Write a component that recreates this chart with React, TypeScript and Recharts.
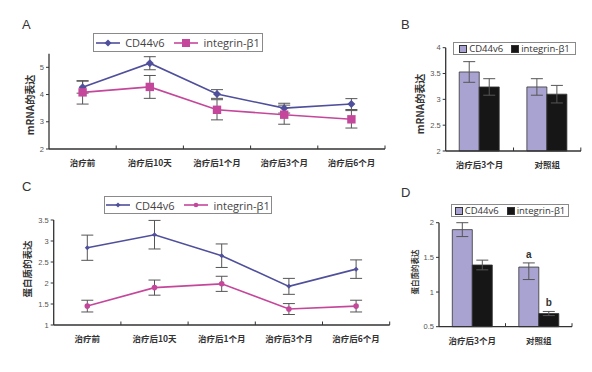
import React from 'react';
import { LineChart, Line, BarChart, Bar, XAxis, YAxis, ErrorBar, Legend, LabelList } from 'recharts';

const timeCats = ['治疗前', '治疗后10天', '治疗后1个月', '治疗后3个月', '治疗后6个月'];
const groupCats = ['治疗后3个月', '对照组'];

// A: mRNA over time
const mrnaCd44 = [4.27, 5.15, 4.02, 3.5, 3.65];
const mrnaCd44Err = [0.22, 0.24, 0.16, 0.18, 0.2];
const mrnaItg = [4.08, 4.28, 3.44, 3.26, 3.09];
const mrnaItgErr = [0.43, 0.42, 0.37, 0.35, 0.32];

// B: mRNA, treated vs control
const mrnaBarCd44 = [3.53, 3.24];
const mrnaBarCd44Err = [0.2, 0.16];
const mrnaBarItg = [3.24, 3.1];
const mrnaBarItgErr = [0.16, 0.17];

// C: protein over time
const proCd44 = [2.84, 3.15, 2.65, 1.92, 2.33];
const proCd44Err = [0.3, 0.34, 0.28, 0.19, 0.22];
const proItg = [1.45, 1.89, 1.98, 1.38, 1.45];
const proItgErr = [0.14, 0.18, 0.18, 0.13, 0.14];

// D: protein, treated vs control
const proBarCd44 = [1.9, 1.36];
const proBarCd44Err = [[0.1, 0.1], [0.18, 0.06]];
const proBarItg = [1.39, 0.69];
const proBarItgErr = [0.07, 0.03];
const proBarCd44Sig = ['', 'a'];
const proBarItgSig = ['', 'b'];

const mrnaRows = timeCats.map((c, i) => ({ cat: c, cd: mrnaCd44[i], cdErr: mrnaCd44Err[i], it: mrnaItg[i], itErr: mrnaItgErr[i] }));
const proRows = timeCats.map((c, i) => ({ cat: c, cd: proCd44[i], cdErr: proCd44Err[i], it: proItg[i], itErr: proItgErr[i] }));
const mrnaBarRows = groupCats.map((c, i) => ({ cat: c, cd: mrnaBarCd44[i], cdErr: mrnaBarCd44Err[i], it: mrnaBarItg[i], itErr: mrnaBarItgErr[i] }));
const proBarRows = groupCats.map((c, i) => ({
  cat: c, cd: proBarCd44[i], cdErr: proBarCd44Err[i], it: proBarItg[i], itErr: proBarItgErr[i],
  cdSig: proBarCd44Sig[i], itSig: proBarItgSig[i],
}));

const LATIN = '"Liberation Sans", Arial, sans-serif';
const CJK = '"Noto Sans CJK SC", "Liberation Sans", sans-serif';
const AXIS = '#333';
const ERR = '#555';
const BLUE = '#4f4f9c';
const PINK = '#c4479b';
const LAVENDER = '#a9a3d2';
const BLACK = '#161616';

const Diamond = ({ cx, cy, r = 3.5, fill }: any) =>
  cx == null ? null : <polygon points={`${cx},${cy - r} ${cx + r},${cy} ${cx},${cy + r} ${cx - r},${cy}`} fill={fill} />;
const Square = ({ cx, cy, r = 4, fill }: any) =>
  cx == null ? null : <rect x={cx - r} y={cy - r} width={r * 2} height={r * 2} fill={fill} />;
const Dot = ({ cx, cy, r = 2.6, fill }: any) => (cx == null ? null : <circle cx={cx} cy={cy} r={r} fill={fill} />);

const CatTick = ({ x, y, payload, index, half, count, fs }: any) => (
  <g>
    {index > 0 && <line x1={x - half} y1={y} x2={x - half} y2={y - 3.5} stroke={AXIS} />}
    {index === count - 1 && <line x1={x + half} y1={y} x2={x + half} y2={y - 3.5} stroke={AXIS} />}
    <text x={x} y={y + 17} textAnchor="middle" fontSize={fs} fontWeight={700} fill="#333" fontFamily={CJK}>
      {payload.value}
    </text>
  </g>
);

const yTick = { fontSize: 7.5, fill: '#555', fontFamily: LATIN };

const LineLegendBox = ({ payload, marks, w, h }: any) => (
  <div style={{ width: w, height: h, boxSizing: 'border-box', border: '1px solid #8a8a8a', display: 'flex', alignItems: 'center', justifyContent: 'center', gap: 10, background: '#fff' }}>
    {(payload || []).map((p: any) => {
      const Mark = marks[p.dataKey];
      return (
        <span key={p.dataKey} style={{ display: 'flex', alignItems: 'center', fontFamily: '"Open Sans", sans-serif', fontSize: 11, color: '#444' }}>
          <svg width={24} height={10} style={{ marginRight: 5 }}>
            <line x1={0} y1={5} x2={24} y2={5} stroke={p.color} strokeWidth={1.6} />
            <Mark cx={12} cy={5} fill={p.color} />
          </svg>
          {p.value}
        </span>
      );
    })}
  </div>
);

const BarLegendBox = ({ payload, w, h, fs }: any) => (
  <div style={{ width: w, height: h, boxSizing: 'border-box', border: '1px solid #8a8a8a', display: 'flex', alignItems: 'center', justifyContent: 'center', gap: 8, background: '#fff' }}>
    {(payload || []).map((p: any) => (
      <span key={p.dataKey} style={{ display: 'flex', alignItems: 'center', fontFamily: '"Open Sans", sans-serif', fontSize: fs, color: '#333' }}>
        <span style={{ width: 6, height: 6, background: p.color, border: '1px solid #333', marginRight: 2 }} />
        {p.value}
      </span>
    ))}
  </div>
);

const Letter = ({ x, y, children }: any) => (
  <div style={{ position: 'absolute', left: x, top: y, fontFamily: LATIN, fontSize: 13, color: '#333', lineHeight: '13px' }}>{children}</div>
);

const YTitle = ({ x, y, fs, children }: any) => (
  <div style={{ position: 'absolute', left: x, top: y, transform: 'translate(-50%, -50%) rotate(-90deg)', whiteSpace: 'nowrap', fontFamily: CJK, fontWeight: 700, fontSize: fs, color: '#333', lineHeight: 1 }}>
    {children}
  </div>
);

const Panel = ({ left, top, children }: any) => <div style={{ position: 'absolute', left, top }}>{children}</div>;

export default function App() {
  return (
    <div style={{ position: 'absolute', left: 0, top: 0, width: 592, height: 372, background: '#fff', overflow: 'hidden' }}>
      <Panel left={0} top={0}>
        <LineChart width={400} height={180} data={mrnaRows} margin={{ top: 53.7, right: 15, bottom: 6, left: 29 }}>
          <XAxis dataKey="cat" scale="point" padding={{ left: 33.6, right: 33.6 }} interval={0} height={25}
            axisLine={{ stroke: AXIS, strokeWidth: 1.3 }} tickLine={false} tickSize={0} tickMargin={0}
            tick={(p: any) => <CatTick {...p} half={33.6} count={timeCats.length} fs={8.5} />} />
          <YAxis domain={[2, 5.5]} ticks={[2, 3, 4, 5]} width={20} tickSize={3} tickMargin={2}
            axisLine={{ stroke: AXIS, strokeWidth: 1.3 }} tickLine={{ stroke: AXIS }} tick={yTick} />
          <Legend verticalAlign="middle" align="center" layout="horizontal" wrapperStyle={{ left: 93, top: 33 }}
            content={(p: any) => <LineLegendBox payload={p.payload} marks={{ cd: Diamond, it: Square }} w={170} h={19} />} />
          <Line dataKey="cd" name="CD44v6" stroke={BLUE} strokeWidth={1.6} isAnimationActive={false}
            dot={(p: any) => <Diamond key={p.index} cx={p.cx} cy={p.cy} fill={BLUE} r={4} />} activeDot={false}>
            <ErrorBar dataKey="cdErr" direction="y" width={6} stroke={ERR} strokeWidth={1} />
          </Line>
          <Line dataKey="it" name="integrin-β1" stroke={PINK} strokeWidth={1.6} isAnimationActive={false}
            dot={(p: any) => <Square key={p.index} cx={p.cx} cy={p.cy} fill={PINK} r={4.2} />} activeDot={false}>
            <ErrorBar dataKey="itErr" direction="y" width={6} stroke={ERR} strokeWidth={1} />
          </Line>
        </LineChart>
      </Panel>

      <Panel left={400} top={0}>
        <BarChart width={192} height={180} data={mrnaBarRows} margin={{ top: 47.7, right: 11, bottom: 4, left: 25.7 }}
          barCategoryGap="20%" barGap={0}>
          <XAxis dataKey="cat" interval={0} height={25} axisLine={{ stroke: AXIS, strokeWidth: 1.3 }} tickLine={false}
            tickSize={0} tickMargin={0} tick={(p: any) => <CatTick {...p} half={33.65} count={groupCats.length} fs={8.5} />} />
          <YAxis domain={[2, 4]} ticks={[2, 2.5, 3, 3.5, 4]} width={20} tickSize={3} tickMargin={2}
            axisLine={{ stroke: AXIS, strokeWidth: 1.3 }} tickLine={{ stroke: AXIS }} tick={yTick} />
          <Legend verticalAlign="middle" align="center" layout="horizontal" wrapperStyle={{ left: 53, top: 42 }}
            content={(p: any) => <BarLegendBox payload={p.payload} w={123} h={13} fs={9.5} />} />
          <Bar dataKey="cd" name="CD44v6" fill={LAVENDER} stroke="#333" strokeWidth={0.8} isAnimationActive={false}>
            <ErrorBar dataKey="cdErr" direction="y" width={6} stroke={ERR} strokeWidth={1} />
          </Bar>
          <Bar dataKey="it" name="integrin-β1" fill={BLACK} stroke="#333" strokeWidth={0.8} isAnimationActive={false}>
            <ErrorBar dataKey="itErr" direction="y" width={6} stroke={ERR} strokeWidth={1} />
          </Bar>
        </BarChart>
      </Panel>

      <Panel left={0} top={180}>
        <LineChart width={400} height={192} data={proRows} margin={{ top: 40, right: 10.3, bottom: 22, left: 33.7 }}>
          <XAxis dataKey="cat" scale="point" padding={{ left: 33.6, right: 33.6 }} interval={0} height={25}
            axisLine={{ stroke: AXIS, strokeWidth: 1.3 }} tickLine={false} tickSize={0} tickMargin={0}
            tick={(p: any) => <CatTick {...p} half={33.6} count={timeCats.length} fs={8.5} />} />
          <YAxis domain={[1, 3.5]} ticks={[1, 1.5, 2, 2.5, 3, 3.5]} width={20} tickSize={3} tickMargin={2}
            axisLine={{ stroke: AXIS, strokeWidth: 1.3 }} tickLine={{ stroke: AXIS }} tick={yTick} />
          <Legend verticalAlign="middle" align="center" layout="horizontal" wrapperStyle={{ left: 104, top: 16 }}
            content={(p: any) => <LineLegendBox payload={p.payload} marks={{ cd: (m: any) => <Diamond {...m} r={2.5} />, it: (m: any) => <Dot {...m} r={2.3} /> }} w={168} h={18} />} />
          <Line dataKey="cd" name="CD44v6" stroke={BLUE} strokeWidth={1.6} isAnimationActive={false}
            dot={(p: any) => <Diamond key={p.index} cx={p.cx} cy={p.cy} fill={BLUE} r={2.5} />} activeDot={false}>
            <ErrorBar dataKey="cdErr" direction="y" width={6} stroke={ERR} strokeWidth={1} />
          </Line>
          <Line dataKey="it" name="integrin-β1" stroke={PINK} strokeWidth={1.6} isAnimationActive={false}
            dot={(p: any) => <Dot key={p.index} cx={p.cx} cy={p.cy} fill={PINK} r={2.8} />} activeDot={false}>
            <ErrorBar dataKey="itErr" direction="y" width={6} stroke={ERR} strokeWidth={1} />
          </Line>
        </LineChart>
      </Panel>

      <Panel left={400} top={180}>
        <BarChart width={192} height={192} data={proBarRows} margin={{ top: 42.7, right: 20, bottom: 20.3, left: 19 }}
          barCategoryGap="20%" barGap={0}>
          <XAxis dataKey="cat" interval={0} height={25} axisLine={{ stroke: AXIS, strokeWidth: 1.3 }} tickLine={false}
            tickSize={0} tickMargin={0} tick={(p: any) => <CatTick {...p} half={33.25} count={groupCats.length} fs={8.5} />} />
          <YAxis domain={[0.5, 2]} ticks={[0.5, 1, 1.5, 2]} width={20} tickSize={3} tickMargin={2}
            axisLine={{ stroke: AXIS, strokeWidth: 1.3 }} tickLine={{ stroke: AXIS }} tick={yTick} />
          <Legend verticalAlign="middle" align="center" layout="horizontal" wrapperStyle={{ left: 51, top: 24 }}
            content={(p: any) => <BarLegendBox payload={p.payload} w={118} h={13} fs={9.5} />} />
          <Bar dataKey="cd" name="CD44v6" fill={LAVENDER} stroke="#333" strokeWidth={0.8} isAnimationActive={false}>
            <ErrorBar dataKey="cdErr" direction="y" width={6} stroke={ERR} strokeWidth={1} />
            <LabelList dataKey="cdSig" position="top" offset={9} fontSize={10} fontWeight={700} fill="#333" fontFamily={LATIN} />
          </Bar>
          <Bar dataKey="it" name="integrin-β1" fill={BLACK} stroke="#333" strokeWidth={0.8} isAnimationActive={false}>
            <ErrorBar dataKey="itErr" direction="y" width={6} stroke={ERR} strokeWidth={1} />
            <LabelList dataKey="itSig" position="top" offset={8} fontSize={10} fontWeight={700} fill="#333" fontFamily={LATIN} />
          </Bar>
        </BarChart>
      </Panel>

      <Letter x={22} y={18}>A</Letter>
      <Letter x={401} y={18}>B</Letter>
      <Letter x={22} y={180}>C</Letter>
      <Letter x={401} y={186}>D</Letter>
      <YTitle x={30} y={105} fs={10}>mRNA的表达</YTitle>
      <YTitle x={420} y={104} fs={10}>mRNA的表达</YTitle>
      <YTitle x={28} y={269} fs={9.5}>蛋白质的表达</YTitle>
      <YTitle x={415} y={272} fs={7.5}>蛋白质的表达</YTitle>
    </div>
  );
}
